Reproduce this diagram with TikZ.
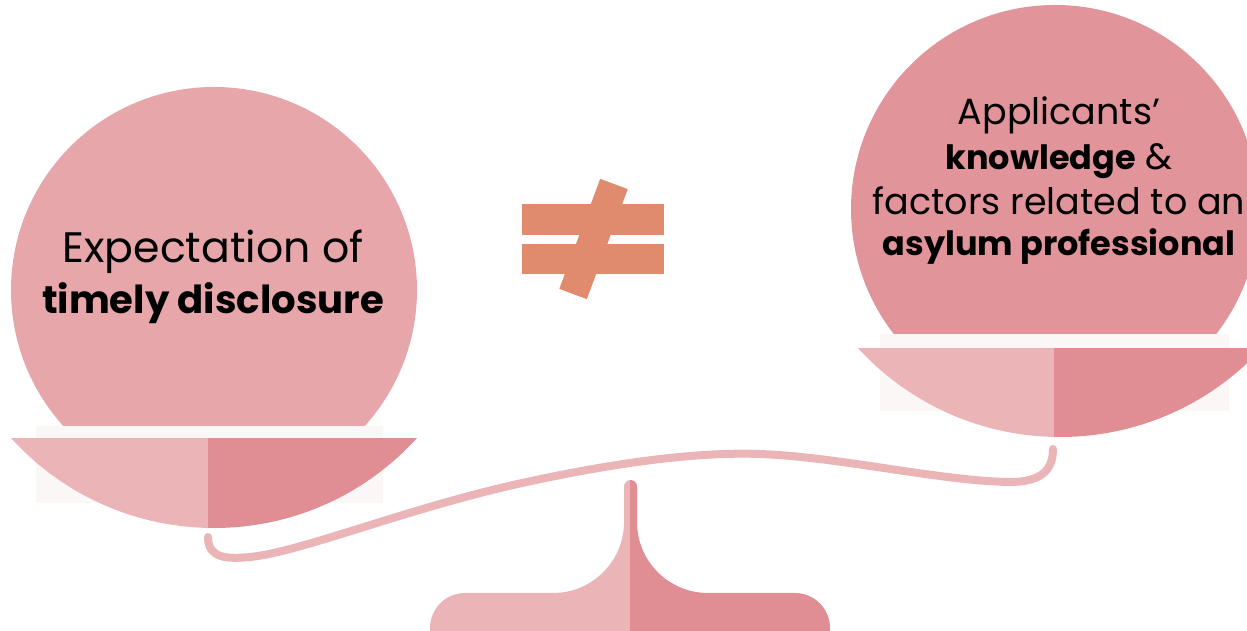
\documentclass[tikz,border=0pt]{standalone}
\usepackage{fontspec}
\setmainfont{Poppins}
\usepackage{tikz}
\usetikzlibrary{positioning, calc}

\definecolor{panLeft}{HTML}{E6A6AA}
\definecolor{panRight}{HTML}{E19499}
\definecolor{partLight}{HTML}{EBB5B7}
\definecolor{partDark}{HTML}{E08E93}
\definecolor{paleShade}{HTML}{FBF7F6}
\definecolor{neqOrange}{HTML}{E08B6E}

% bold words run wider in this font, so they get a smaller size
\newcommand{\leftbold}[1]{{\fontsize{38.6}{46}\selectfont\bfseries #1}}
\newcommand{\rightbold}[1]{{\fontsize{33.5}{40}\selectfont\bfseries #1}}

\tikzset{
  lightpart/.style = {fill=partLight},
  darkpart/.style = {fill=partDark},
  paleback/.style = {fill=paleShade},
  beam/.style = {draw=partLight, line width=8pt, line cap=round},
  neqbar/.style = {fill=neqOrange},
  neqslash/.style = {
    rectangle, fill=neqOrange, inner sep=0pt,
    minimum width=29.4pt, minimum height=117.4pt
  },
  bigline/.style = {anchor=base, inner sep=0pt, font=\fontsize{42.6}{50}\selectfont},
  smallline/.style = {anchor=base, inner sep=0pt, font=\fontsize{36.5}{44}\selectfont}
}

\begin{document}
\begin{tikzpicture}[x=1pt, y=1pt]

\useasboundingbox (0,0) rectangle (1247,631);

% ----- LEFT PAN -----
\begin{scope}
  \clip (0,205) rectangle (1247,631);
  \fill[panLeft] (214,341) circle[radius=203];
\end{scope}
\fill[paleback] (36,128) rectangle (383,205);
\begin{scope}
  \clip (214,377) circle[radius=274];
  \clip (0,0) rectangle (1247,193);
  \fill[lightpart] (0,0) rectangle (208,193);
  \fill[darkpart] (208,0) rectangle (520,193);
\end{scope}

% ----- RIGHT PAN -----
\begin{scope}
  \clip (0,297) rectangle (1247,631);
  \fill[panRight] (1055,422) circle[radius=204];
\end{scope}
\fill[paleback] (880,220) rectangle (1229,297);
\begin{scope}
  \clip (1060,468) circle[radius=274];
  \clip (0,0) rectangle (1247,283);
  \fill[lightpart] (800,0) rectangle (1054,283);
  \fill[darkpart] (1054,0) rectangle (1247,283);
\end{scope}

% ----- BEAM -----
\coordinate (beamL) at (208,94);
\coordinate (beamR) at (1053,182);
\draw[beam] (beamL) .. controls (208,72) and (228,72) .. (250,74)
  .. controls (300,79) and (400,120) .. (513,146)
  .. controls (580,161) and (680,180) .. (760,177)
  .. controls (840,174) and (940,150) .. (1010,149)
  .. controls (1040,149) and (1053,160) .. (beamR);

% ----- STAND -----
\begin{scope}
  \clip (430,0) -- (430,3) arc[start angle=180, end angle=90, radius=35]
    -- (553,38) arc[start angle=270, end angle=360, radius=71]
    -- (624,144.5) arc[start angle=180, end angle=0, radius=6.5]
    -- (637,109) arc[start angle=180, end angle=270, radius=71]
    -- (795,38) arc[start angle=90, end angle=0, radius=35]
    -- (830,0) -- cycle;
  \fill[lightpart] (420,0) rectangle (630,160);
  \fill[darkpart] (630,0) rectangle (840,160);
\end{scope}

% ----- NOT EQUAL -----
\fill[neqbar] (522,396) rectangle (664,427);
\fill[neqbar] (522,357) rectangle (664,387);
\node[neqslash, rotate=-20.4] (slash) at (593.5,392) {};

% ----- TEXT -----
\node[bigline] (expA) at (213,368) {Expectation of};
\node[bigline] (expB) at (213,317) {\leftbold{timely disclosure}};

\node[smallline] (appA) at (1059,506) {Applicants’};
\node[smallline] (appB) at (1059,461) {\rightbold{knowledge} \&};
\node[smallline] (appC) at (1059,416) {factors related to an};
\node[smallline] (appD) at (1059,375) {\rightbold{asylum professional}};

\end{tikzpicture}
\end{document}
